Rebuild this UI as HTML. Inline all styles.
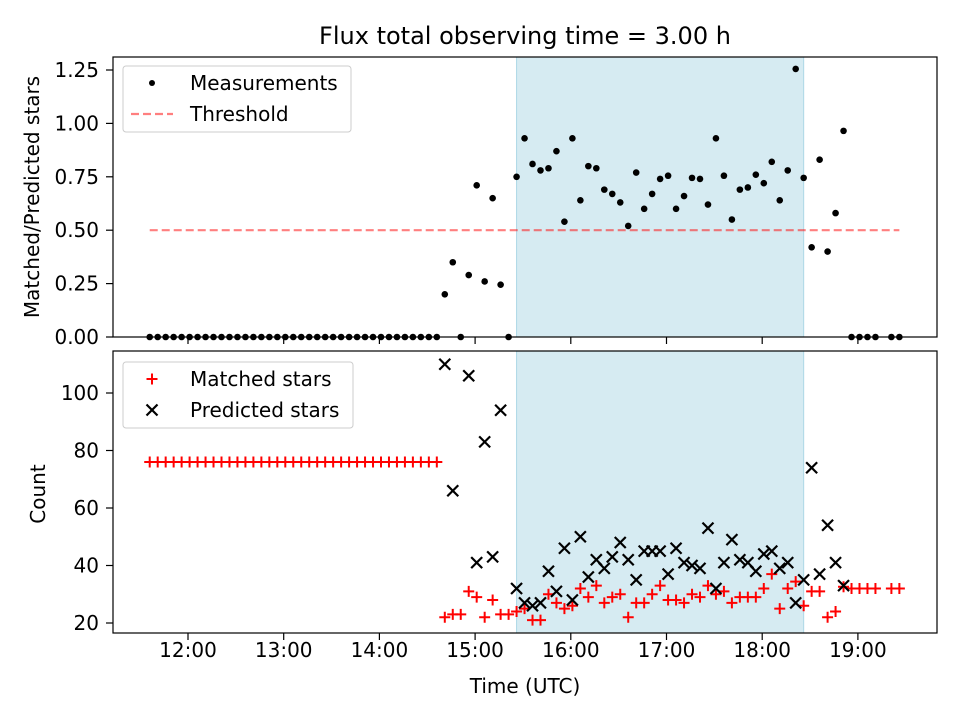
<!DOCTYPE html>
<html><head><meta charset="utf-8"><style>
body{margin:0;background:#fff}
svg text{font-family:"DejaVu Sans","Liberation Sans",sans-serif;fill:#000}
</style></head><body>
<svg id="chart" width="960" height="720" viewBox="0 0 960 720" xmlns="http://www.w3.org/2000/svg"></svg>
<script>
const times=["11:36","11:41","11:46","11:51","11:56","12:01","12:06","12:11","12:16","12:21","12:26","12:31","12:36","12:41","12:46","12:51","12:56","13:01","13:06","13:11","13:16","13:21","13:26","13:31","13:36","13:41","13:46","13:51","13:56","14:01","14:06","14:11","14:16","14:21","14:26","14:31","14:36","14:41","14:46","14:51","14:56","15:01","15:06","15:11","15:16","15:21","15:26","15:31","15:36","15:41","15:46","15:51","15:56","16:01","16:06","16:11","16:16","16:21","16:26","16:31","16:36","16:41","16:46","16:51","16:56","17:01","17:06","17:11","17:16","17:21","17:26","17:31","17:36","17:41","17:46","17:51","17:56","18:01","18:06","18:11","18:16","18:21","18:26","18:31","18:36","18:41","18:46","18:51","18:56","19:01","19:06","19:11","19:16","19:21","19:26"];
const ratio=[0,0,0,0,0,0,0,0,0,0,0,0,0,0,0,0,0,0,0,0,0,0,0,0,0,0,0,0,0,0,0,0,0,0,0,0,0,
0.2,0.35,0,0.29,0.71,0.26,0.65,0.245,0,
0.75,0.93,0.81,0.78,0.79,0.87,0.54,0.93,0.64,0.8,0.79,0.69,0.67,0.63,0.52,0.77,0.6,0.67,0.74,0.755,
0.6,0.66,0.745,0.74,0.62,0.93,0.755,0.55,0.69,0.70,0.76,0.72,0.82,0.64,0.78,1.255,0.745,0.42,0.83,0.40,0.58,0.965,
0,0,0,0,null,0,0];
const matched=[76,76,76,76,76,76,76,76,76,76,76,76,76,76,76,76,76,76,76,76,76,76,76,76,76,76,76,76,76,76,76,76,76,76,76,76,76,
22,23,23,31,29,22,28,23,23,
24,25,21,21,30,27,25,26,32,29,33,27,29,30,22,27,27,30,33,28,
28,27,30,29,33,30,31,27,29,29,29,32,37,25,32,34.4,26,31,31,22,24,32.6,
32,32,32,32,null,32,32];
const predicted=[null,null,null,null,null,null,null,null,null,null,null,null,null,null,null,null,null,null,null,null,null,null,null,null,null,null,null,null,null,null,null,null,null,null,null,null,null,
110,66,null,106,41,83,43,94,null,
32,27,26,27,38,31,46,28,50,36,42,39,43,48,42,35,45,45,45,37,
46,41,40,39,53,32,41,49,42,41,38,44,45,39,41,27,35,74,37,54,41,33,
null,null,null,null,null,null,null];
const xTicks=["12:00","13:00","14:00","15:00","16:00","17:00","18:00","19:00"];
const topTicks=[0,0.25,0.5,0.75,1.0,1.25];
const botTicks=[20,40,60,80,100];
const threshold=0.5;
const shade=["15:26","18:26"];
const thrRange=["11:36","19:26"];

const NS="http://www.w3.org/2000/svg";
const svg=document.getElementById('chart');
function mk(tag,attrs,parent){const e=document.createElementNS(NS,tag);for(const k in attrs)e.setAttribute(k,attrs[k]);(parent||svg).appendChild(e);return e;}
function hrs(s){const p=s.split(':');return +p[0]+(+p[1])/60;}
const X=t=>188+(hrs(t)-12)*95.7;
const L=113,R=937;
const T1=57,B1=337; const Y1=v=>337-v*213.6;
const T2=351,B2=633; const Y2=v=>623-(v-20)*2.875;
const FS=20;

let t=mk('text',{x:525,y:44,'font-size':24,'text-anchor':'middle'});

t.textContent='Flux total observing time = 3.00 h';

function panel(top,bot,name){
  const g=mk('g',{});
  
  mk('rect',{x:L,y:top,width:R-L,height:bot-top,fill:'#fff'},g);
  const s=mk('rect',{x:X(shade[0]),y:top,width:X(shade[1])-X(shade[0]),height:bot-top,fill:'#add8e6','fill-opacity':0.5,stroke:'#add8e6','stroke-width':1},g);
  
  return g;
}
function frame(top,bot){mk('rect',{x:L,y:top,width:R-L,height:bot-top,fill:'none',stroke:'#000','stroke-width':1.2});}
function xAxis(bot,labels){
  xTicks.forEach(s=>{const x=X(s);mk('line',{x1:x,x2:x,y1:bot,y2:bot+7,stroke:'#000','stroke-width':1.2});
    if(labels){const e=mk('text',{x:x,y:bot+24,'font-size':FS,'text-anchor':'middle'});
    e.textContent=s;}});
}
function yAxis(ticks,Y,fmt){
  ticks.forEach(v=>{const y=Y(v);mk('line',{x1:L-7,x2:L,y1:y,y2:y,stroke:'#000','stroke-width':1.2});
    const e=mk('text',{x:L-14,y:y+7,'font-size':FS,'text-anchor':'end'});
    e.textContent=fmt(v);});
}

panel(T1,B1,'ratio-panel');
const thr=mk('line',{x1:X(thrRange[0]),x2:X(thrRange[1]),y1:Y1(threshold),y2:Y1(threshold),stroke:'#ff0000','stroke-opacity':0.5,'stroke-width':2.2,'stroke-dasharray':'8,4'});

const clip1=mk('clipPath',{id:'c1'});mk('rect',{x:L,y:T1,width:R-L,height:B1-T1+5},clip1);
const pts=mk('g',{'clip-path':'url(#c1)'});
ratio.forEach((v,i)=>{if(v===null)return;const c=mk('circle',{cx:X(times[i]),cy:Y1(v),r:3.3,fill:'#000'},pts);
  });
frame(T1,B1);xAxis(B1,false);
yAxis(topTicks,Y1,v=>v.toFixed(2));
let yl=mk('text',{x:39,y:197,'font-size':FS,'text-anchor':'middle',transform:'rotate(-90 39 197)'});
yl.textContent='Matched/Predicted stars';

panel(T2,B2,'count-panel');
matched.forEach((v,i)=>{if(v===null)return;const x=X(times[i]),y=Y2(v);
  const g=mk('g',{stroke:'#ff0000','stroke-width':2});
  
  mk('line',{x1:x-5.5,x2:x+5.5,y1:y,y2:y},g);mk('line',{x1:x,x2:x,y1:y-5.5,y2:y+5.5},g);});
predicted.forEach((v,i)=>{if(v===null)return;const x=X(times[i]),y=Y2(v);
  const g=mk('g',{stroke:'#000','stroke-width':2.2});
  
  mk('line',{x1:x-5.5,x2:x+5.5,y1:y-5.5,y2:y+5.5},g);mk('line',{x1:x-5.5,x2:x+5.5,y1:y+5.5,y2:y-5.5},g);});
frame(T2,B2);xAxis(B2,true);
yAxis(botTicks,Y2,v=>String(v));
let yl2=mk('text',{x:45,y:494,'font-size':FS,'text-anchor':'middle',transform:'rotate(-90 45 494)'});
yl2.textContent='Count';
let xl=mk('text',{x:525,y:693,'font-size':FS,'text-anchor':'middle'});
xl.textContent='Time (UTC)';

function legend(x,y,w,h,name,items){
  const g=mk('g',{});
  mk('rect',{x:x,y:y,width:w,height:h,rx:3,fill:'#fff','fill-opacity':0.8,stroke:'#ccc','stroke-width':1},g);
  items.forEach((it,k)=>{const cy=y+17+k*31;it.draw(g,x+29,cy);
    const e=mk('text',{x:x+67,y:cy+7,'font-size':FS},g);
    e.textContent=it.label;});
}
legend(123,66,228,66,'legend-top',[
 {label:'Measurements',draw:(g,x,y)=>mk('circle',{cx:x,cy:y,r:3,fill:'#000'},g)},
 {label:'Threshold',draw:(g,x,y)=>mk('line',{x1:x-21,x2:x+21,y1:y,y2:y,stroke:'#ff0000','stroke-opacity':0.5,'stroke-width':2.2,'stroke-dasharray':'8,4'},g)}]);
legend(123,362,230,66,'legend-bottom',[
 {label:'Matched stars',draw:(g,x,y)=>{mk('line',{x1:x-5.5,x2:x+5.5,y1:y,y2:y,stroke:'#f00','stroke-width':2},g);mk('line',{x1:x,x2:x,y1:y-5.5,y2:y+5.5,stroke:'#f00','stroke-width':2},g);}},
 {label:'Predicted stars',draw:(g,x,y)=>{mk('line',{x1:x-5.5,x2:x+5.5,y1:y-5.5,y2:y+5.5,stroke:'#000','stroke-width':2.2},g);mk('line',{x1:x-5.5,x2:x+5.5,y1:y+5.5,y2:y-5.5,stroke:'#000','stroke-width':2.2},g);}}]);
</script>
</body></html>
